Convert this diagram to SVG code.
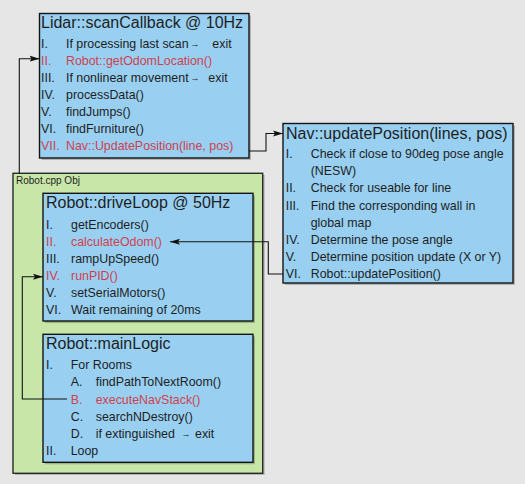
<svg xmlns="http://www.w3.org/2000/svg" width="525" height="484" viewBox="0 0 525 484">
<style>
text{font-family:"Liberation Sans",Arial,sans-serif;fill:#1e1e1e}
.t{font-size:16px}
.i{font-size:12.4px}
.s{font-size:10px}
.r{fill:#cf3f4f}
.a{font-size:9px}
.box{fill:#99d0f2;stroke:#141414;stroke-width:1.4}
.grp{fill:#c7e6a7;stroke:#2a2a2a;stroke-width:1.4}
.sh{fill:#000;opacity:0.22}
.c{fill:none;stroke:#111;stroke-width:1.1}
</style>
<defs>
<marker id="ah" markerUnits="userSpaceOnUse" markerWidth="10" markerHeight="8" viewBox="0 0 10 8" refX="10" refY="4" orient="auto">
<path d="M0,1 L10,4 L0,7 L2,4 z" fill="#111"/>
</marker>
</defs>
<rect x="0" y="0" width="525" height="484" fill="#e6e6e6"/>

<g id="robot-obj">
<rect class="sh" x="15" y="175" width="249.7" height="300"/>
<rect class="grp" x="13" y="173.3" width="249.7" height="300"/>
<text class="s" x="16" y="183.5">Robot.cpp Obj</text>
</g>

<g id="lidar">
<rect class="sh" x="41.5" y="15.5" width="209.5" height="144.5"/>
<rect class="box" x="39.5" y="13.5" width="209.5" height="144.5"/>
<text class="t" x="41" y="28.3">Lidar::scanCallback @ 10Hz</text>
<g class="i">
<text x="41" y="47.5">I.</text><text x="66" y="47.5">If processing last scan<tspan class="a" x="190.5" dy="-1">→</tspan><tspan x="212.3" dy="1">exit</tspan></text>
<text class="r" x="41" y="64.5">II.</text><text class="r" x="66" y="64.5">Robot::getOdomLocation()</text>
<text x="41" y="81.5">III.</text><text x="66" y="81.5">If nonlinear movement<tspan class="a" x="190.5" dy="-1">→</tspan><tspan x="208.3" dy="1">exit</tspan></text>
<text x="41" y="98.5">IV.</text><text x="66" y="98.5">processData()</text>
<text x="41" y="115.5">V.</text><text x="66" y="115.5">findJumps()</text>
<text x="41" y="132.5">VI.</text><text x="66" y="132.5">findFurniture()</text>
<text class="r" x="41" y="149.5">VII.</text><text class="r" x="66" y="149.5">Nav::UpdatePosition(line, pos)</text>
</g>
</g>

<g id="nav">
<rect class="sh" x="285" y="125.5" width="230" height="159.5"/>
<rect class="box" x="283" y="123.5" width="230" height="159.5"/>
<text class="t" x="286" y="139.3">Nav::updatePosition(lines, pos)</text>
<g class="i">
<text x="285.7" y="158.3">I.</text><text x="310.7" y="158.3">Check if close to 90deg pose angle</text>
<text x="310.7" y="175.3">(NESW)</text>
<text x="285.7" y="192.3">II.</text><text x="310.7" y="192.3">Check for useable for line</text>
<text x="285.7" y="210">III.</text><text x="310.7" y="210">Find the corresponding wall in</text>
<text x="310.7" y="227">global map</text>
<text x="285.7" y="244">IV.</text><text x="310.7" y="244">Determine the pose angle</text>
<text x="285.7" y="260.8">V.</text><text x="310.7" y="260.8">Determine position update (X or Y)</text>
<text x="285.7" y="278">VI.</text><text x="310.7" y="278">Robot::updatePosition()</text>
</g>
</g>

<g id="driveloop">
<rect class="sh" x="45" y="195.3" width="210" height="127.7"/>
<rect class="box" x="43" y="193.3" width="210" height="127.7"/>
<text class="t" x="46" y="208.3">Robot::driveLoop @ 50Hz</text>
<g class="i">
<text x="46" y="228.7">I.</text><text x="71" y="228.7">getEncoders()</text>
<text class="r" x="46" y="245.7">II.</text><text class="r" x="71" y="245.7">calculateOdom()</text>
<text x="46" y="262.7">III.</text><text x="71" y="262.7">rampUpSpeed()</text>
<text class="r" x="46" y="279.7">IV.</text><text class="r" x="71" y="279.7">runPID()</text>
<text x="46" y="296.7">V.</text><text x="71" y="296.7">setSerialMotors()</text>
<text x="46" y="313.9">VI.</text><text x="71" y="313.9">Wait remaining of 20ms</text>
</g>
</g>

<g id="mainlogic">
<rect class="sh" x="45" y="336.3" width="210" height="128"/>
<rect class="box" x="43" y="334.3" width="210" height="128"/>
<text class="t" x="46" y="349.3">Robot::mainLogic</text>
<g class="i">
<text x="46" y="369.2">I.</text><text x="70.7" y="369.2">For Rooms</text>
<text x="70.7" y="386.4">A.</text><text x="95.7" y="386.4">findPathToNextRoom()</text>
<text class="r" x="70.7" y="403.6">B.</text><text class="r" x="95.7" y="403.6">executeNavStack()</text>
<text x="70.7" y="420.8">C.</text><text x="95.7" y="420.8">searchNDestroy()</text>
<text x="70.7" y="438">D.</text><text x="95.7" y="438">if extinguished<tspan class="a" x="181.5" dy="-1">→</tspan><tspan x="195" dy="1">exit</tspan></text>
<text x="46" y="455.2">II.</text><text x="70.7" y="455.2">Loop</text>
</g>
</g>

<g id="connectors">
<path class="c" d="M249,151 H266 V133.5 H283" marker-end="url(#ah)"/>
<path class="c" d="M283,274 H268.3 V241.7 H170" marker-end="url(#ah)"/>
<path class="c" d="M67,399 H22.3 V276.7 H43" marker-end="url(#ah)"/>
<path class="c" d="M19.3,173.3 V58.7 H39.5" marker-end="url(#ah)"/>
</g>
</svg>
